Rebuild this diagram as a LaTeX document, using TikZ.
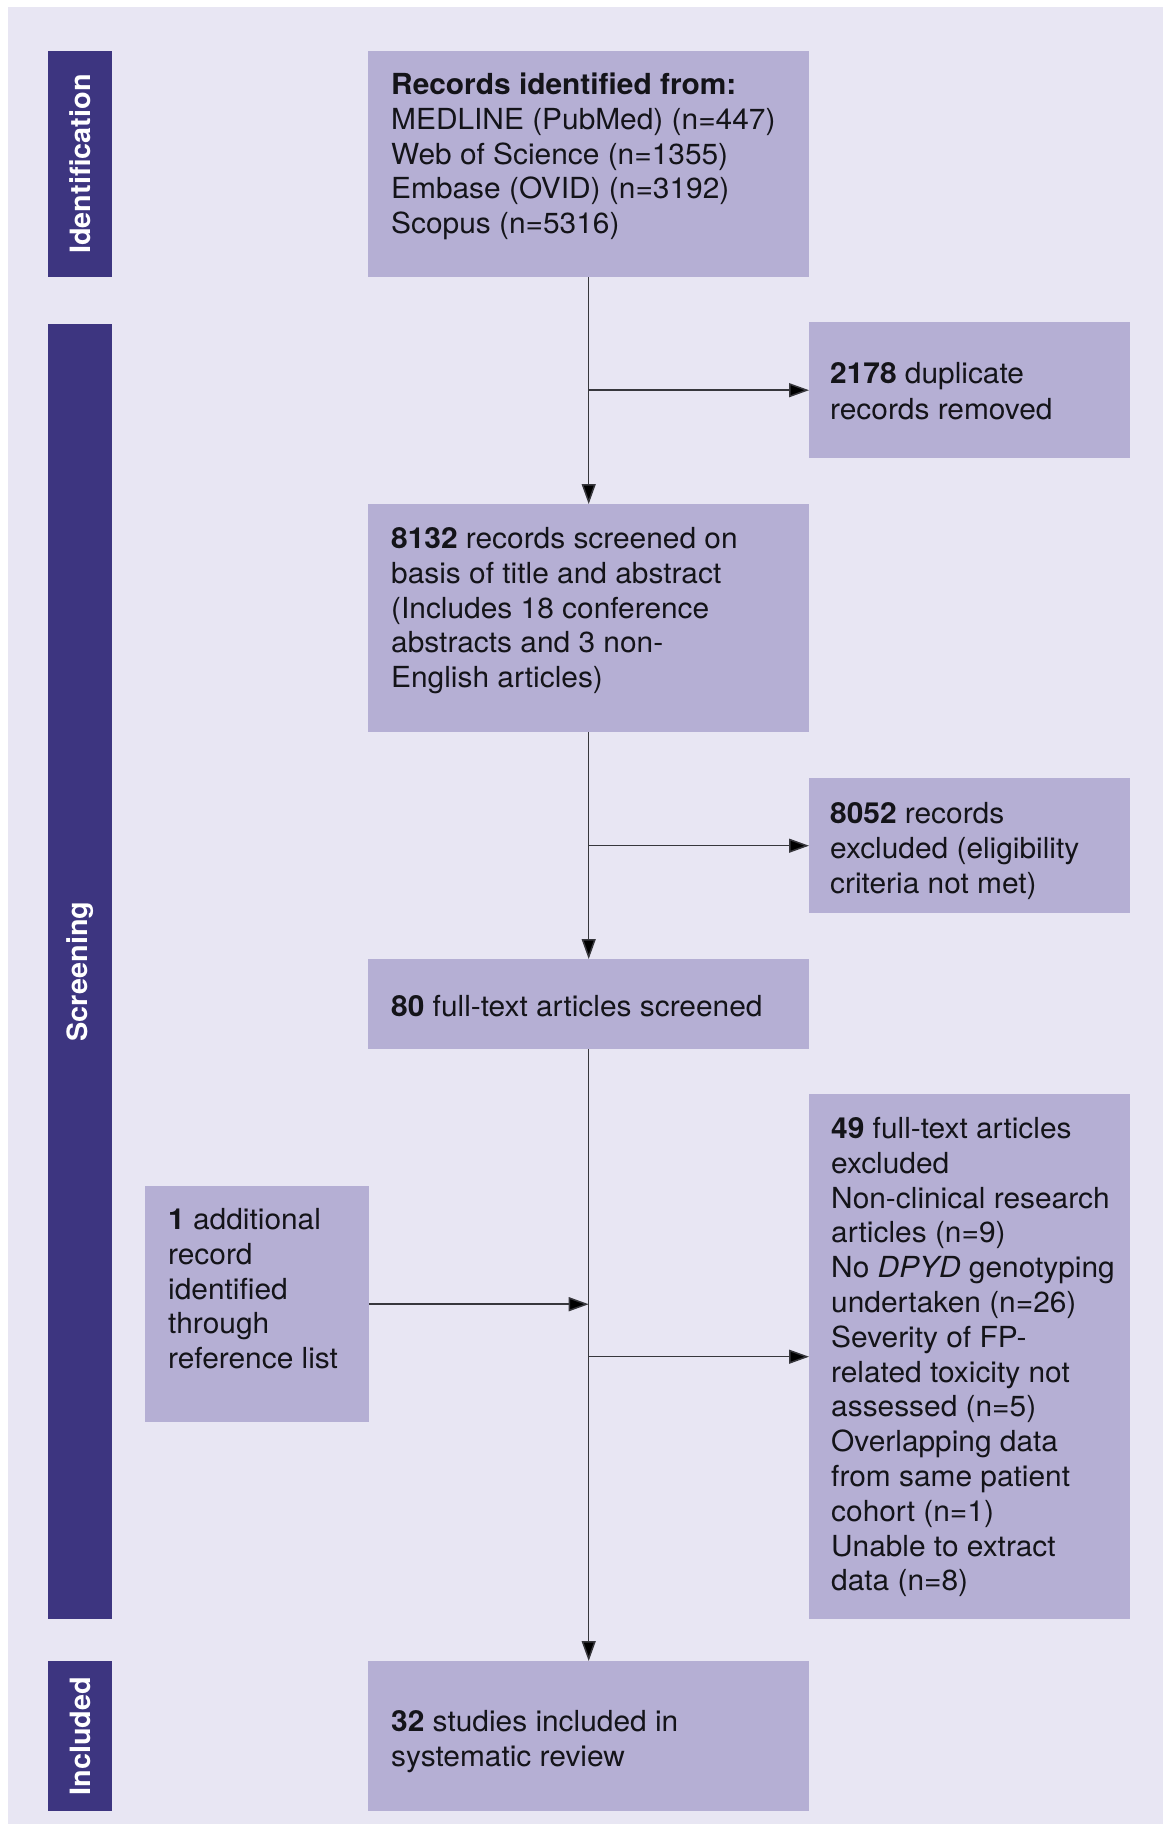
\documentclass[tikz,border=0pt]{standalone}
\usepackage{fontspec}
\setmainfont{TeX Gyre Heros}[FakeStretch=1.03]
\usetikzlibrary{arrows.meta}
\definecolor{bgcol}{RGB}{232,230,243}
\definecolor{boxcol}{RGB}{181,175,212}
\definecolor{barcol}{RGB}{61,53,128}
\definecolor{linecol}{RGB}{55,55,60}
\definecolor{txtcol}{RGB}{20,20,25}
\begin{document}
\begin{tikzpicture}[x=1pt,y=-1pt,
  box/.style={fill=boxcol, draw=none, inner sep=0pt, anchor=north west},
  bar/.style={fill=barcol, draw=none, inner sep=0pt, rotate=90, text=white,
    font=\fontsize{28}{34.8}\selectfont\bfseries},
  txt/.style={inner sep=0pt, anchor=north west, align=left, text=txtcol,
    font=\fontsize{29}{34.8}\selectfont},
  arr/.style={draw=linecol, line width=1.5pt, -{Triangle[length=20pt,width=14pt,fill=black]}}
]
\useasboundingbox (0,0) rectangle (1163,1825);
\fill[white] (0,0) rectangle (1163,1825);
\fill[bgcol] (8,7) rectangle (1163,1824);

% phase bars
\node[bar, minimum width=226pt, minimum height=64pt] (idbar) at (80,164) {Identification};
\node[bar, minimum width=1295pt, minimum height=64pt] (scbar) at (80,971.5) {Screening};
\node[bar, minimum width=150pt, minimum height=64pt] (inbar) at (80,1736) {Included};

% boxes
\node[box, minimum width=441pt, minimum height=226pt] (top) at (368,51) {};
\node[box, minimum width=321pt, minimum height=136pt] (dup) at (809,322) {};
\node[box, minimum width=441pt, minimum height=228pt] (scr) at (368,504) {};
\node[box, minimum width=321pt, minimum height=135pt] (exc) at (809,778) {};
\node[box, minimum width=441pt, minimum height=90pt] (ft) at (368,959) {};
\node[box, minimum width=321pt, minimum height=525pt] (ex49) at (809,1094) {};
\node[box, minimum width=224pt, minimum height=236pt] (add) at (145,1186) {};
\node[box, minimum width=441pt, minimum height=150pt] (inc) at (368,1661) {};

% texts
\node[txt] (top-t) at (391,71) {\rule{0pt}{0.8em}\textbf{Records identified from:}\\
MEDLINE (PubMed) (n=447)\\ Web of Science (n=1355)\\ Embase (OVID) (n=3192)\\ Scopus (n=5316)};
\node[txt, font=\fontsize{29}{36.5}\selectfont] (dup-t) at (830,360) {\rule{0pt}{0.8em}\textbf{2178} duplicate\\ records removed};
\node[txt] (scr-t) at (391,525) {\rule{0pt}{0.8em}\textbf{8132} records screened on\\ basis of title and abstract\\
(Includes 18 conference\\ abstracts and 3 non-\\ English articles)};
\node[txt] (exc-t) at (830,800) {\rule{0pt}{0.8em}\textbf{8052} records\\ excluded (eligibility\\ criteria not met)};
\node[txt] (ft-t) at (391,993) {\rule{0pt}{0.8em}\textbf{80} full-text articles screened};
\node[txt] (ex49-t) at (831,1115) {\rule{0pt}{0.8em}\textbf{49} full-text articles\\ excluded\\
Non-clinical research\\ articles (n=9)\\ No \textit{DPYD} genotyping\\ undertaken (n=26)\\
Severity of FP-\\ related toxicity not\\ assessed (n=5)\\ Overlapping data\\
from same patient\\ cohort (n=1)\\ Unable to extract\\ data (n=8)};
\node[txt] (add-t) at (168,1206) {\rule{0pt}{0.8em}\textbf{1} additional\\ record\\ identified\\ through\\ reference list};
\node[txt] (inc-t) at (391,1708) {\rule{0pt}{0.8em}\textbf{32} studies included in\\ systematic review};

% connectors
\draw[arr] (top.south |- dup.west) -- (dup.west);
\draw[arr] (top.south) -- (scr.north);
\draw[arr] (scr.south |- exc.west) -- (exc.west);
\draw[arr] (scr.south) -- (ft.north);
\draw[arr] (ft.south |- ex49.west) -- (ex49.west);
\draw[arr] (add.east) -- (add.east -| ft.south);
\draw[arr] (ft.south) -- (inc.north);
\end{tikzpicture}
\end{document}
